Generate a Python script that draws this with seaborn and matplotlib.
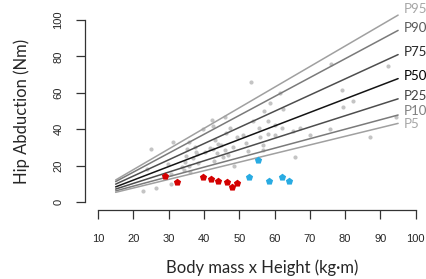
import numpy as np
import pandas as pd
import matplotlib
matplotlib.use("Agg")
import matplotlib.pyplot as plt
import seaborn as sns

# percentile reference lines (value at x=15 and at x=95)
pct_names = ["P95", "P90", "P75", "P50", "P25", "P10", "P5"]
pct_start = [12.1, 11.2, 9.8, 8.3, 7.1, 6.1, 5.3]
pct_end = [102.7, 94.3, 81.0, 67.8, 56.7, 47.8, 43.2]
line_x = [15, 95]

# reference sample (gray)
ref_x = [22.8, 26.5, 30.7, 25.1, 31.3, 23.8, 29.9, 30.7, 33.9, 35.1, 34.9, 35.9,
         37.5, 38.0, 35.9, 34.4, 36.1, 34.6, 37.0, 38.4, 39.7, 42.2, 46.0, 42.7,
         47.4, 46.3, 49.3, 51.2, 51.9, 43.1, 44.1, 41.7, 37.8, 40.3, 42.7, 44.7,
         46.0, 48.3, 46.9, 45.5, 43.8, 42.9, 48.4, 52.5, 53.3, 61.6, 58.7, 62.5,
         57.0, 58.2, 60.1, 62.0, 65.3, 67.2, 55.7, 58.2, 60.1, 55.9, 56.7, 70.1,
         75.6, 65.8, 53.8, 56.8, 75.9, 92.1, 79.2, 82.3, 79.3, 94.4, 86.9]
ref_y = [6.2, 7.5, 9.8, 29.1, 33.2, 18.0, 20.7, 15.2, 19.1, 29.0, 25.3, 33.1,
         30.4, 26.4, 19.8, 17.6, 16.7, 22.1, 24.0, 21.6, 40.1, 45.0, 46.5, 41.9,
         40.5, 37.7, 35.9, 36.8, 32.2, 34.0, 31.9, 29.5, 27.6, 27.6, 29.0, 31.3,
         28.6, 30.0, 25.8, 24.9, 26.7, 22.7, 20.0, 28.2, 66.1, 59.7, 54.6, 50.9,
         50.2, 44.5, 42.3, 40.8, 39.2, 40.8, 40.5, 37.4, 36.8, 35.5, 31.3, 36.8,
         40.0, 24.7, 44.5, 28.6, 75.7, 75.0, 61.5, 55.5, 52.0, 46.9, 35.9]

# patients
red_x = [29.0, 32.4, 39.6, 41.9, 43.9, 46.5, 48.0, 49.3]
red_y = [14.3, 11.2, 13.7, 12.5, 11.7, 11.0, 8.4, 10.6]
blue_x = [52.8, 55.2, 58.4, 62.0, 64.0]
blue_y = [13.6, 23.3, 11.4, 13.6, 11.4]

y_ticks = [0, 20, 40, 60, 80, 100]
x_ticks = [10, 20, 30, 40, 50, 60, 70, 80, 90, 100]

line_colors = ["#a0a0a0", "#7a7a7a", "#4d4d4d", "#141414", "#4d4d4d", "#7a7a7a", "#a0a0a0"]
label_colors = ["#a6a6a6", "#595959", "#262626", "#000000", "#404040", "#7f7f7f", "#a6a6a6"]
label_y = [106, 95.6, 82.4, 69.2, 58.2, 50.0, 42.9]

sns.set_style("ticks")
plt.rcParams["font.family"] = ["Liberation Sans", "DejaVu Sans"]

fig = plt.figure(figsize=(4.26, 2.79), dpi=100)
ax = fig.add_axes([85 / 426, 69 / 279, 341 / 426, 210 / 279])

sns.scatterplot(x=ref_x, y=ref_y, ax=ax, color="#c4c4c4", s=9, linewidth=0, zorder=1)

lines = pd.DataFrame({
    "x": line_x * len(pct_names),
    "y": [v for s, e in zip(pct_start, pct_end) for v in (s, e)],
    "pct": [p for p in pct_names for _ in line_x],
})
sns.lineplot(data=lines, x="x", y="y", hue="pct", palette=dict(zip(pct_names, line_colors)),
             linewidth=1.1, legend=False, ax=ax, zorder=2)

sns.scatterplot(x=red_x, y=red_y, ax=ax, color="#d40000", marker="p", s=30, linewidth=0, zorder=3)
sns.scatterplot(x=blue_x, y=blue_y, ax=ax, color="#29abe2", marker="p", s=30, linewidth=0, zorder=3)

# percentile labels run past the right edge, as in the original
for name, yv, c in zip(pct_names, label_y, label_colors):
    ax.text(96.7, yv, name, color=c, fontsize=9.5, va="center", ha="left",
            family=["Lato", "DejaVu Sans"], clip_on=False)

ax.set_xlim(6.32, 102.9)
ax.set_ylim(-4.4, 111)
ax.set_xticks(x_ticks)
ax.set_yticks(y_ticks)
ax.tick_params(axis="both", length=6.5, width=0.9, color="#333333", labelsize=8, pad=9)
ax.tick_params(axis="x", pad=11)
for lab in ax.get_yticklabels():
    lab.set_rotation(90)
    lab.set_va("center")

sns.despine(ax=ax)
ax.spines["left"].set_bounds(0, 100)
ax.spines["bottom"].set_bounds(10, 100)
for sp in ("left", "bottom"):
    ax.spines[sp].set_linewidth(0.9)
    ax.spines[sp].set_color("#333333")

ax.set_xlabel("Body mass x Height (kg\u00b7m)", fontsize=12, family=["Lato", "DejaVu Sans"])
ax.set_ylabel("Hip Abduction (Nm)", fontsize=12, family=["Lato", "DejaVu Sans"])
ax.xaxis.set_label_coords(0.52, -0.235)
ax.yaxis.set_label_coords(-0.161, 0.471)

fig.savefig("out.png", dpi=100)
